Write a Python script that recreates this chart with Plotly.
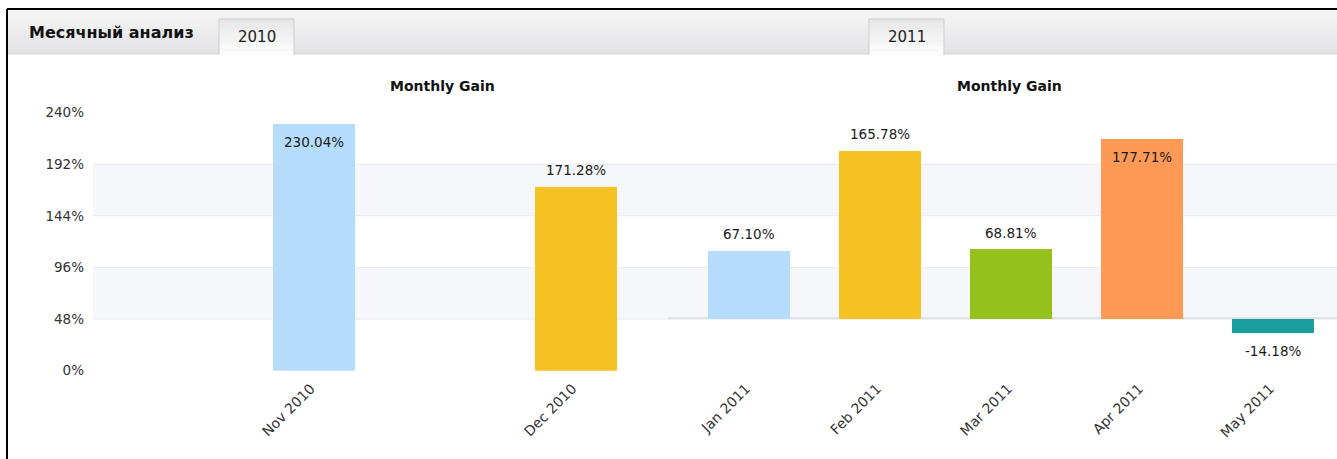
import plotly.graph_objects as go

W, H = 1337, 459

# ---------------- data ----------------
cats_2010 = ["Nov 2010", "Dec 2010"]
gain_2010 = [230.04, 171.28]
colors_2010 = ["#b5dcfb", "#f6c223"]

cats_2011 = ["Jan 2011", "Feb 2011", "Mar 2011", "Apr 2011", "May 2011"]
gain_2011 = [67.10, 165.78, 68.81, 177.71, -14.18]
colors_2011 = ["#b5dcfb", "#f6c223", "#95c11d", "#fe9956", "#1a9e9e"]

y_ticks = [0, 48, 96, 144, 192, 240]
band_pairs = [(48, 96), (144, 192)]
chart_title = "Monthly Gain"
header_text = "Месячный анализ"
tab_labels = ["2010", "2011"]

FONT = "DejaVu Sans"
TXT = "#333333"


def px_x(p):
    return p / W


def px_y(p):
    return 1 - p / H


plot_top, plot_bot = 112.5, 370.7
dom_y = [px_y(plot_bot), px_y(plot_top)]

left_range = [0, 240]
right_range = [-51.5, 202.9]

# horizontal layout of the two category axes (pixels)
L_START, L_FIRST, L_STEP = 93.0, 313.8, 261.7
R_START, R_FIRST, R_STEP = 668.0, 749.2, 131.0
l_r0 = -(L_FIRST - L_START) / L_STEP
l_r1 = l_r0 + (W - L_START) / L_STEP
r_r0 = -(R_FIRST - R_START) / R_STEP
r_r1 = r_r0 + (W - R_START) / R_STEP
BAR_PX = 82.0

fig = go.Figure()
fig.add_trace(go.Bar(x=cats_2010, y=gain_2010, marker_color=colors_2010,
                     marker_line_width=0, width=BAR_PX / L_STEP,
                     xaxis="x", yaxis="y", hoverinfo="x+y"))
fig.add_trace(go.Bar(x=cats_2011, y=gain_2011, marker_color=colors_2011,
                     marker_line_width=0, width=BAR_PX / R_STEP,
                     xaxis="x2", yaxis="y2", hoverinfo="x+y"))

shapes = []
# outer black border
shapes.append(dict(type="line", xref="paper", yref="paper",
                   x0=px_x(7), x1=1, y0=px_y(9), y1=px_y(9),
                   line=dict(color="#000000", width=2)))
shapes.append(dict(type="line", xref="paper", yref="paper",
                   x0=px_x(7), x1=px_x(7), y0=px_y(9), y1=0,
                   line=dict(color="#000000", width=2)))
# tab bar gradient
top_c = (0xf5, 0xf5, 0xf5)
bot_c = (0xe3, 0xe3, 0xe6)
n = 11
y0p, y1p = 10, 54
for i in range(n):
    t = i / (n - 1)
    c = tuple(int(round(top_c[k] + (bot_c[k] - top_c[k]) * t)) for k in range(3))
    ya = y0p + (y1p - y0p) * i / n
    yb = y0p + (y1p - y0p) * (i + 1) / n
    shapes.append(dict(type="rect", xref="paper", yref="paper",
                       x0=px_x(8), x1=1, y0=px_y(yb), y1=px_y(ya),
                       fillcolor="rgb(%d,%d,%d)" % c, line=dict(width=0)))
shapes.append(dict(type="line", xref="paper", yref="paper",
                   x0=px_x(8), x1=1, y0=px_y(54), y1=px_y(54),
                   line=dict(color="#d2d2d6", width=1)))
# tabs
for xa, xb in [(219, 294), (869, 944)]:
    for i in range(8):
        t = i / 7
        c = tuple(int(round(0xe8 + (0xfc - 0xe8) * t)) for _ in range(3))
        ya = 19 + 36 * i / 8
        yb = 19 + 36 * (i + 1) / 8
        shapes.append(dict(type="rect", xref="paper", yref="paper",
                           x0=px_x(xa), x1=px_x(xb), y0=px_y(yb), y1=px_y(ya),
                           fillcolor="rgb(%d,%d,%d)" % c, line=dict(width=0)))
    shapes.append(dict(type="path", xref="paper", yref="paper",
                       path="M %f,%f L %f,%f L %f,%f L %f,%f" % (
                           px_x(xa), px_y(55), px_x(xa), px_y(19),
                           px_x(xb), px_y(19), px_x(xb), px_y(55)),
                       line=dict(color="#cdcdd1", width=1)))
# grid bands and lines of the left chart
for a, b in band_pairs:
    shapes.append(dict(type="rect", xref="paper", yref="y",
                       x0=px_x(L_START), x1=1, y0=a, y1=b, layer="below",
                       fillcolor="#f6f7fa", line=dict(width=0)))
for v in y_ticks[1:-1]:
    shapes.append(dict(type="line", xref="paper", yref="y",
                       x0=px_x(L_START), x1=1, y0=v, y1=v, layer="below",
                       line=dict(color="#e8e9ed", width=1)))

annotations = []
annotations.append(dict(xref="paper", yref="paper", x=px_x(27), y=px_y(33),
                        xanchor="left", yanchor="middle", showarrow=False,
                        text="<b>%s</b>" % header_text,
                        font=dict(family=FONT, size=16, color="#111111")))
for lbl, cx in zip(tab_labels, [257, 907]):
    annotations.append(dict(xref="paper", yref="paper", x=px_x(cx), y=px_y(37),
                            xanchor="center", yanchor="middle", showarrow=False,
                            text=lbl, font=dict(family=FONT, size=15, color="#222222")))
for cx in [442, 1009]:
    annotations.append(dict(xref="paper", yref="paper", x=px_x(cx), y=px_y(86),
                            xanchor="center", yanchor="middle", showarrow=False,
                            text="<b>%s</b>" % chart_title,
                            font=dict(family=FONT, size=14, color="#111111")))


def add_labels(cats, vals, xr, yr, rng):
    for c, v in zip(cats, vals):
        txt = "%.2f%%" % v
        if v >= 0 and v > 0.85 * rng[1]:
            ya, ys = "top", -9
        elif v >= 0:
            ya, ys = "bottom", 6
        else:
            ya, ys = "top", -8
        annotations.append(dict(xref=xr, yref=yr, x=c, y=v, xanchor="center",
                                yanchor=ya, yshift=ys, showarrow=False, text=txt,
                                font=dict(family=FONT, size=13.5, color="#1a1a1a")))


add_labels(cats_2010, gain_2010, "x", "y", left_range)
add_labels(cats_2011, gain_2011, "x2", "y2", right_range)

x_font = dict(family=FONT, size=14, color=TXT)
y_font = dict(family=FONT, size=13.5, color=TXT)
fig.update_layout(
    template="none",
    width=W, height=H, autosize=False,
    margin=dict(l=0, r=0, t=0, b=0, pad=0, autoexpand=False),
    paper_bgcolor="white", plot_bgcolor="rgba(0,0,0,0)",
    showlegend=False, bargap=0,
    xaxis=dict(domain=[px_x(L_START), 1], anchor="y", type="category",
               range=[l_r0, l_r1], tickangle=-45, showgrid=False,
               zeroline=False, showline=False, ticks="", tickfont=x_font,
               ticklabelstandoff=6, ticklabelshift=-3,
               automargin=False, fixedrange=True),
    yaxis=dict(domain=dom_y, anchor="x", range=left_range, tickvals=y_ticks,
               ticktext=["%d%%" % v for v in y_ticks], showgrid=False,
               zeroline=False, showline=False, ticks="", tickfont=y_font,
               ticklabelstandoff=8, automargin=False, fixedrange=True),
    xaxis2=dict(domain=[px_x(R_START), 1], anchor="y2", type="category",
                range=[r_r0, r_r1], tickangle=-45, showgrid=False,
                zeroline=False, showline=False, ticks="", tickfont=x_font,
                ticklabelstandoff=6, ticklabelshift=-3,
                automargin=False, fixedrange=True),
    yaxis2=dict(domain=dom_y, anchor="x2", range=right_range,
                showticklabels=False, showgrid=False, zeroline=True,
                zerolinecolor="#e1e2e7", zerolinewidth=2, showline=False,
                ticks="", automargin=False, fixedrange=True),
    shapes=shapes,
    annotations=annotations,
)

fig.write_html("out.html", config={"displayModeBar": False},
               post_script="document.body.style.margin='0';")
